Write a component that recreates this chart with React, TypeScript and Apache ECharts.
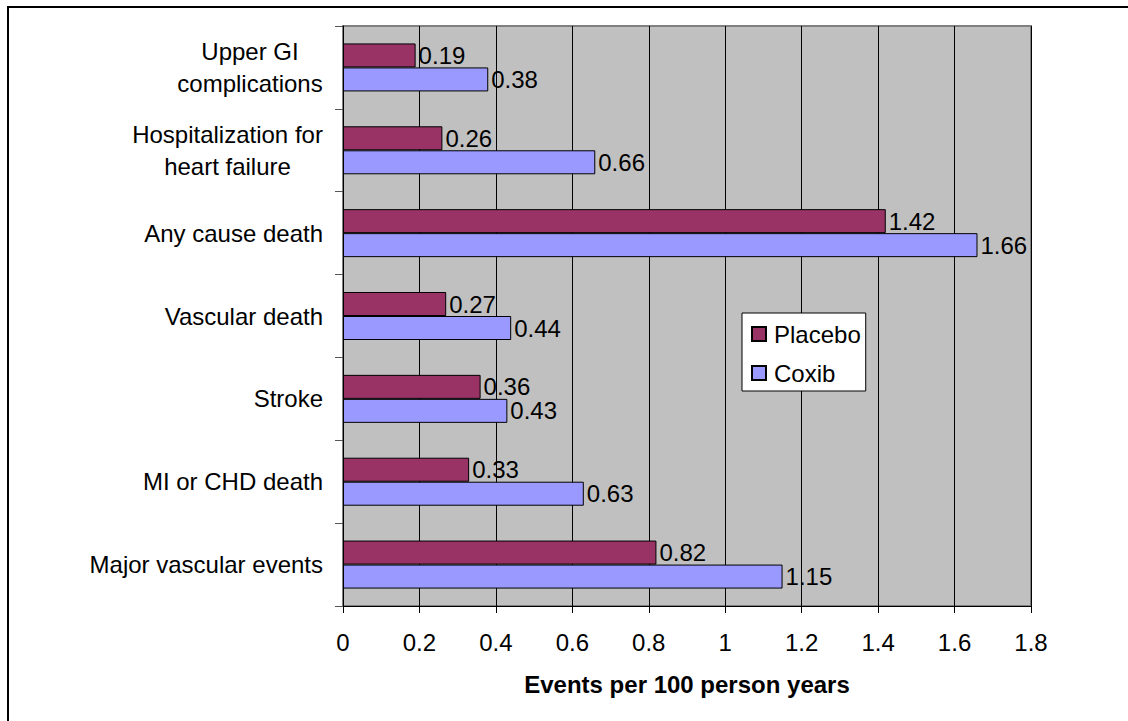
import React, { useEffect, useRef } from "react";
import * as echarts from "echarts";

const categories = [
  "Major vascular events",
  "MI or CHD death",
  "Stroke",
  "Vascular death",
  "Any cause death",
  "Hospitalization for\nheart failure",
  "Upper GI\ncomplications",
];
const placebo = [0.82, 0.33, 0.36, 0.27, 1.42, 0.26, 0.19];
const coxib = [1.15, 0.63, 0.43, 0.44, 1.66, 0.66, 0.38];
const seriesNames = ["Placebo", "Coxib"];
const axisTitle = "Events per 100 person years";

const FONT = 'Arial, "Liberation Sans", sans-serif';
const FS = 24;

export default function App() {
  const ref = useRef<HTMLDivElement>(null);
  useEffect(() => {
    if (!ref.current) return;
    const chart = echarts.init(ref.current, null, { renderer: "svg" });
    const labelCfg = {
      show: true,
      position: "right" as const,
      distance: 3,
      color: "#000",
      fontSize: FS,
      fontFamily: FONT,
    };
    const ctx = document.createElement("canvas").getContext("2d");
    if (ctx) ctx.font = `${FS}px ${FONT}`;
    const richStyles: Record<string, any> = {};
    const formatted: Record<string, string> = {};
    categories.forEach((c, i) => {
      const lines = c.split("\n");
      if (lines.length < 2) {
        formatted[c] = c;
        return;
      }
      const w = Math.max(
        ...lines.map((l) => (ctx ? ctx.measureText(l).width : l.length * 11))
      );
      const key = "m" + i;
      richStyles[key] = {
        width: Math.ceil(w),
        align: "center",
        fontSize: FS,
        fontFamily: FONT,
        color: "#000",
        lineHeight: 32,
      };
      formatted[c] = lines.map((l) => `{${key}|${l}}`).join("\n");
    });
    chart.setOption({
      animation: false,
      backgroundColor: "#fff",
      textStyle: { fontFamily: FONT },
      graphic: [
        {
          type: "rect",
          shape: { x: 8, y: 7, width: 1300, height: 900 },
          style: { fill: "none", stroke: "#000", lineWidth: 2 },
          silent: true,
          z: 100,
        },
      ],
      grid: {
        left: 343,
        top: 26,
        width: 688,
        height: 580,
        show: true,
        backgroundColor: "#c0c0c0",
        borderColor: "#808080",
        borderWidth: 2,
      },
      legend: {
        orient: "vertical",
        left: 742,
        top: 313,
        data: seriesNames,
        icon: "rect",
        itemWidth: 14,
        itemHeight: 14,
        itemGap: 15,
        padding: [9, 5, 6, 9],
        backgroundColor: "#fff",
        borderColor: "#000",
        borderWidth: 1,
        textStyle: {
          fontSize: FS,
          fontFamily: FONT,
          color: "#000",
          padding: [0, 0, 0, 3],
        },
      },
      xAxis: {
        type: "value",
        min: 0,
        max: 1.8,
        interval: 0.2,
        name: axisTitle,
        nameLocation: "middle",
        nameGap: 66,
        nameTextStyle: {
          fontSize: FS,
          fontWeight: "bold",
          fontFamily: FONT,
          color: "#000",
        },
        axisLine: { show: true, lineStyle: { color: "#000", width: 1 } },
        axisTick: { show: true, length: 7, lineStyle: { color: "#000" } },
        axisLabel: {
          margin: 24,
          fontSize: FS,
          fontFamily: FONT,
          color: "#000",
        },
        splitLine: { show: true, lineStyle: { color: "#000", width: 1 } },
      },
      yAxis: {
        type: "category",
        data: categories,
        axisLine: { show: true, lineStyle: { color: "#000", width: 1 } },
        axisTick: { show: true, length: 8, lineStyle: { color: "#555" } },
        axisLabel: {
          margin: 20,
          fontSize: FS,
          fontFamily: FONT,
          color: "#000",
          lineHeight: 32,
          formatter: (v: string) => formatted[v] ?? v,
          rich: richStyles,
        },
        splitLine: { show: false },
      },
      series: [
        {
          name: seriesNames[0],
          type: "bar",
          data: placebo,
          barWidth: 24,
          barGap: "0%",
          itemStyle: { color: "#993366", borderColor: "#000", borderWidth: 1 },
          label: labelCfg,
        },
        {
          name: seriesNames[1],
          type: "bar",
          data: coxib,
          barWidth: 24,
          barGap: "0%",
          itemStyle: { color: "#9999ff", borderColor: "#000", borderWidth: 1 },
          label: labelCfg,
        },
      ],
    });
    return () => chart.dispose();
  }, []);
  return (
    <div
      style={{
        position: "fixed",
        left: 0,
        top: 0,
        width: 1128,
        height: 721,
        background: "#fff",
      }}
    >
      <div ref={ref} style={{ width: 1128, height: 721 }} />
    </div>
  );
}
